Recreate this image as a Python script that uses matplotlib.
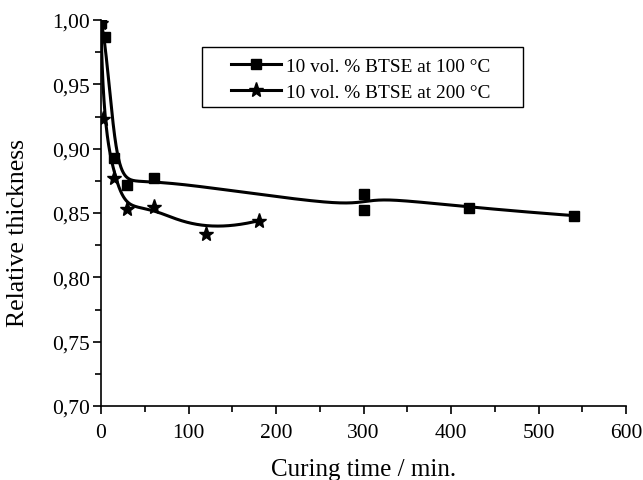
import numpy as np
import matplotlib
matplotlib.use("Agg")
import matplotlib.pyplot as plt
from matplotlib.ticker import MultipleLocator, FuncFormatter
from matplotlib.patches import Rectangle

# Data
t_100 = [0, 5, 15, 30, 60, 300, 300, 420, 540]
y_100 = [0.998, 0.987, 0.893, 0.872, 0.877, 0.852, 0.865, 0.854, 0.848]
t_200 = [0, 2, 15, 30, 60, 120, 180]
y_200 = [0.998, 0.923, 0.877, 0.853, 0.855, 0.834, 0.844]
labels = ["10 vol. % BTSE at 100 \u00b0C", "10 vol. % BTSE at 200 \u00b0C"]

plt.rcParams['font.family'] = ['Liberation Serif', 'DejaVu Serif']

W, H = 643, 481


def bspline(x, y, npts=800, k=3):
    """Clamped uniform B-spline using the data points as control points."""
    P = np.column_stack([np.asarray(x, float), np.asarray(y, float)])
    n = len(P)
    inner = np.arange(1, n - k)
    knots = np.concatenate([np.zeros(k + 1), inner, np.full(k + 1, n - k)]).astype(float)
    us = np.linspace(0, n - k, npts)
    out = []
    for u in us:
        if u >= knots[-1]:
            j = n - 1
        else:
            j = np.searchsorted(knots, u, side='right') - 1
        d = [P[j - k + r].copy() for r in range(k + 1)]
        for r in range(1, k + 1):
            for m in range(k, r - 1, -1):
                i = j - k + m
                denom = knots[i + k + 1 - r] - knots[i]
                a = 0.0 if denom == 0 else (u - knots[i]) / denom
                d[m] = (1 - a) * d[m - 1] + a * d[m]
        out.append(d[k])
    out = np.array(out)
    return out[:, 0], out[:, 1]


fig = plt.figure(figsize=(W / 100, H / 100), dpi=100)
ax = fig.add_axes([101 / W, 1 - 407 / H, 525 / W, 386 / H])

bx1, by1 = bspline(t_100, y_100)
bx2, by2 = bspline(t_200, y_200)

ax.plot(bx1, by1, color='black', lw=2.2, solid_capstyle='round')
ax.plot(bx2, by2, color='black', lw=2.2, solid_capstyle='round')
ax.plot(t_100, y_100, 's', color='black', ms=7, ls='none')
ax.plot(t_200, y_200, '*', color='black', ms=11, ls='none')

# legend proxies
h1, = ax.plot([], [], '-s', color='black', lw=2.2, ms=7)
h2, = ax.plot([], [], '-*', color='black', lw=2.2, ms=11)
leg = fig.legend([h1, h2], labels, loc='upper left',
                 bbox_to_anchor=(231 / W, 1 - 58 / H), bbox_transform=fig.transFigure,
                 fontsize=13.9, frameon=False,
                 handlelength=2.6, borderpad=0.0, labelspacing=0.46, handletextpad=0.26,
                 borderaxespad=0.0)
fig.add_artist(Rectangle((201.7 / W, 1 - 108 / H), (523 - 201.7) / W, (108 - 47.7) / H,
                         transform=fig.transFigure, fill=False, lw=1.0, edgecolor='black'))

ax.set_xlim(0, 600)
ax.set_ylim(0.70, 1.00)
ax.xaxis.set_major_locator(MultipleLocator(100))
ax.xaxis.set_minor_locator(MultipleLocator(50))
ax.yaxis.set_major_locator(MultipleLocator(0.05))
ax.yaxis.set_minor_locator(MultipleLocator(0.025))
ax.yaxis.set_major_formatter(FuncFormatter(lambda v, p: f"{v:.2f}".replace('.', ',')))

for s in ['top', 'right']:
    ax.spines[s].set_visible(False)
for s in ['left', 'bottom']:
    ax.spines[s].set_linewidth(1.2)
ax.tick_params(which='major', direction='out', length=6, width=1.2, labelsize=15.5, pad=2)
ax.tick_params(axis='x', which='major', pad=6)
ax.tick_params(which='minor', direction='out', length=4, width=1.2)

ax.set_xlabel("Curing time / min.", fontsize=18, labelpad=12)
ax.set_ylabel("Relative thickness", fontsize=18.5)
ax.yaxis.set_label_coords(-0.137, 0.451)

fig.savefig("out.png", dpi=100)
